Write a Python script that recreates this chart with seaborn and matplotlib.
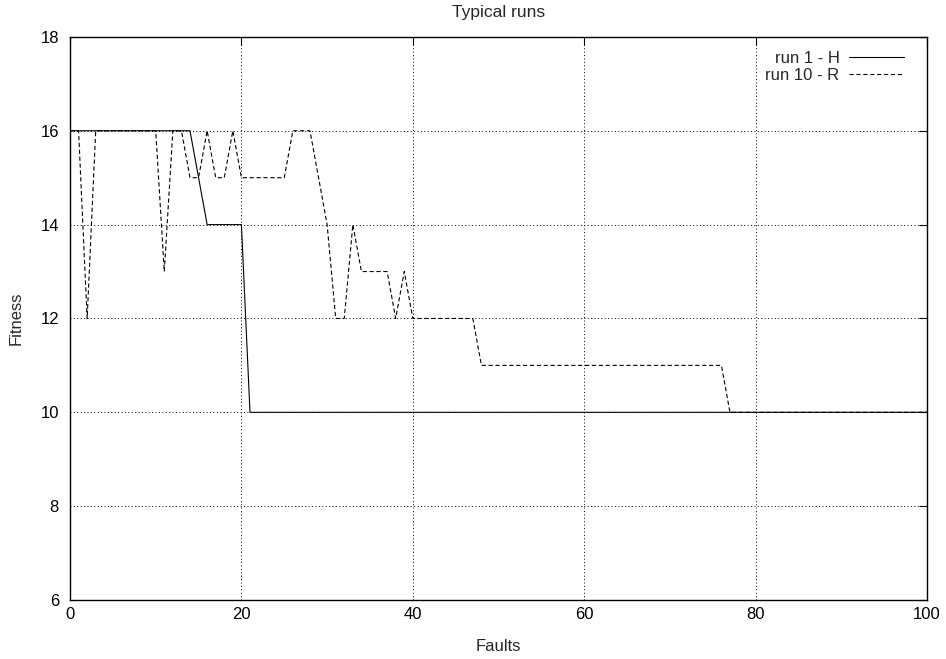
import matplotlib

matplotlib.use("Agg")

import matplotlib.pyplot as plt
import seaborn as sns
import pandas as pd

# run 1 - H (breakpoints)
h_faults = [0, 14, 16, 20, 21, 100]
h_fitness = [16, 16, 14, 14, 10, 10]

# run 10 - R (breakpoints)
r_faults = [0, 1, 2, 3, 10, 11, 12, 13, 14, 15, 16, 17, 18, 19, 20, 25, 26, 28,
            29, 30, 31, 32, 33, 34, 37, 38, 39, 40, 47, 48, 76, 77, 100]
r_fitness = [16, 16, 12, 16, 16, 13, 16, 16, 15, 15, 16, 15, 15, 16, 15, 15, 16, 16,
             15, 14, 12, 12, 14, 13, 13, 12, 13, 12, 12, 11, 11, 10, 10]

x_ticks = [0, 20, 40, 60, 80, 100]
y_ticks = [6, 8, 10, 12, 14, 16, 18]

sns.set_theme(style="white")
plt.rcParams['font.family'] = ['Liberation Sans', 'DejaVu Sans']

df_h = pd.DataFrame({"Faults": h_faults, "Fitness": h_fitness})
df_r = pd.DataFrame({"Faults": r_faults, "Fitness": r_fitness})

fig = plt.figure(figsize=(9.46, 6.59), dpi=100)
ax = fig.add_axes([0.074, 0.0895, 0.906, 0.8545])

sns.lineplot(data=df_h, x="Faults", y="Fitness", ax=ax, color="black",
             linewidth=0.8, label="run 1 - H", sort=False, estimator=None)
sns.lineplot(data=df_r, x="Faults", y="Fitness", ax=ax, color="black",
             linewidth=0.8, label="run 10 - R", sort=False, estimator=None)
ax.lines[1].set_dashes([3.8, 2.4])

ax.set_xlim(0, 100)
ax.set_ylim(6, 18)
ax.set_xticks(x_ticks)
ax.set_yticks(y_ticks)

ax.grid(True, color="black", linestyle=(0, (1, 2.5)), linewidth=0.7)
ax.tick_params(direction="in", length=6, width=0.8, top=True, right=True,
               labelsize=12, colors="black")
ax.tick_params(axis="y", pad=8)
ax.tick_params(axis="x", pad=5)
for s in ax.spines.values():
    s.set_color("black")
    s.set_linewidth(1.0)

ax.set_title("Typical runs", fontsize=12.5, pad=14)
ax.set_xlabel("Faults", fontsize=12, labelpad=12)
ax.set_ylabel("Fitness", fontsize=12, labelpad=12)

leg = ax.legend(loc="upper right", frameon=False, markerfirst=False,
                fontsize=12, handlelength=3.3, handletextpad=0.6,
                labelspacing=0.15, borderaxespad=0.6, bbox_to_anchor=(0.993, 1.005))
for t in leg.get_texts():
    t.set_ha("right")

fig.savefig("out.png", dpi=100)
plt.close()
